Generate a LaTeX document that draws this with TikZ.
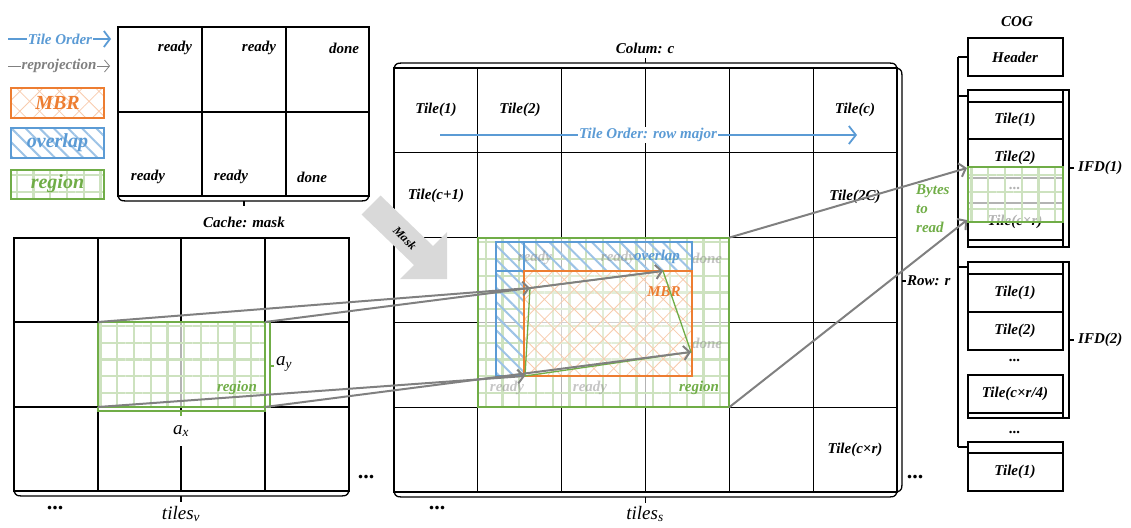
\documentclass[tikz,border=0pt]{standalone}
\usepackage{fontspec}
\setmainfont{Liberation Serif}
\usetikzlibrary{arrows.meta,patterns.meta}
\definecolor{cblue}{HTML}{5B9BD5}
\definecolor{corange}{HTML}{ED7D31}
\definecolor{cgreen}{HTML}{70AD47}
\definecolor{cgray}{HTML}{808080}
\definecolor{maskgray}{HTML}{D9D9D9}
\begin{document}
\begin{tikzpicture}[x=1pt,y=-1pt,
  every node/.style={inner sep=1pt},
  lbl/.style={font=\fontsize{15}{17}\selectfont\bfseries\itshape},
  big/.style={font=\fontsize{20}{22}\selectfont\bfseries\itshape},
  mlbl/.style={font=\fontsize{19}{20}\selectfont\itshape},
  dots/.style={font=\fontsize{22}{22}\selectfont\bfseries},
  gline/.style={line width=1.3pt,black},
  brk/.style={line width=1.3pt,black},
  gridfill/.style={pattern={Hatch[angle=0,distance=16.75pt,line width=2.2pt]},pattern color=cgreen!35},
  xfill/.style={pattern={Hatch[angle=45,distance=14pt,line width=0.8pt]},pattern color=corange!40},
  hfill/.style={pattern={Lines[angle=-45,distance=10pt,line width=2pt]},pattern color=cblue!60},
  veil/.style={fill=white,fill opacity=0.7},
  reproj/.style={draw=cgray,line width=2pt,-{Straight Barb[length=6pt,width=14pt,line width=2pt]}},
  faint/.style={lbl,text=gray,text opacity=0.45},
  cogbox/.style={line width=1.3pt,black},
]
\useasboundingbox (0,0) rectangle (1131,527);

% ---------------- legend
\coordinate (lg1a) at (8,39); \coordinate (lg1b) at (111,39);
\draw[cblue,line width=1.8pt,-{Straight Barb[length=6pt,width=16pt,line width=1.8pt]}] (lg1a) -- (lg1b);
\node[lbl,text=cblue,fill=white] (lgto) at (60,39) {Tile Order};
\coordinate (lg2a) at (8,66); \coordinate (lg2b) at (110,66);
\draw[cgray,line width=0.8pt,-{Straight Barb[length=5pt,width=12pt,line width=0.8pt]}] (lg2a) -- (lg2b);
\node[lbl,text=cgray,fill=white] (lgrp) at (59,66) {reprojection};

\path[xfill] (11,88) rectangle (104,118);
\draw[corange,line width=1.5pt] (11,88) rectangle (104,118);
\node[big,text=corange] (lgmbr) at (57.5,103) {MBR};
\path[hfill] (11,128) rectangle (104,158);
\draw[cblue,line width=1.5pt] (11,128) rectangle (104,158);
\node[big,text=cblue] (lgov) at (57.5,143) {overlap};
\path[gridfill] (11,170) rectangle (104,199);
\draw[cgreen,line width=1.5pt] (11,170) rectangle (104,199);
\node[big,text=cgreen] (lgreg) at (57.5,184) {region};

% ---------------- cache mask
\draw[gline] (118,27) rectangle (369,196);
\draw[gline] (202,27) -- (202,196);
\draw[gline] (286,27) -- (286,196);
\draw[gline] (118,112) -- (369,112);
\draw[brk] (118,196) .. controls (120,201) .. (132,201) -- (355,201) .. controls (367,201) .. (369,196);
\draw[brk] (244,201) -- (244,206);
\node[lbl] (cachelbl) at (244,222) {Cache: mask};
\node[lbl] (c1) at (175,48) {ready};
\node[lbl] (c2) at (259,48) {ready};
\node[lbl] (c3) at (344,48) {done};
\node[lbl] (c4) at (148,177) {ready};
\node[lbl] (c5) at (231,177) {ready};
\node[lbl] (c6) at (312,177) {done};

% ---------------- left grid (tiles_v)
\foreach \x in {98,181,265} \draw[gline] (\x,238) -- (\x,491);
\foreach \y in {322,407} \draw[gline] (14,\y) -- (349,\y);
\draw[gline] (14,238) rectangle (349,491);
\coordinate (L1) at (98,322); \coordinate (L2) at (265,322);
\coordinate (L3) at (98,407); \coordinate (L4) at (265,407);
\fill[veil] (L1) rectangle (L4);
\path[gridfill] (L1) rectangle (L4);
\draw[cgreen,line width=1.6pt,rounded corners=1.5pt] (L1) rectangle (L4);
\draw[cgreen,line width=1.3pt] (265,322) -- (270,322) -- (270,407) -- (265,407);
\draw[cgreen,line width=1.3pt] (270,366) -- (274,366);
\draw[cgreen,line width=1.3pt] (98,407) -- (98,411) -- (265,411) -- (265,407);
\draw[cgreen,line width=1.3pt] (181,411) -- (181,416);
\node[lbl,text=cgreen] (lreg) at (237,388) {region};
\node[mlbl,anchor=west] (ay) at (275,364) {a\textsubscript{y}};
\node[mlbl,fill=white,minimum height=30pt] (ax) at (181,431) {a\textsubscript{x}};
\draw[brk] (14,491) .. controls (16,496) .. (28,496) -- (335,496) .. controls (347,496) .. (349,491);
\draw[brk] (181,496) -- (181,502);
\node[mlbl] (tv) at (181,514) {tiles\textsubscript{v}};
\node[dots] (dl1) at (55,508) {...};
\node[dots] (dl2) at (366,477) {...};

% ---------------- middle grid (tiles_s)
\foreach \x in {477.8,561.7,645.5,729.3,813.2} \draw[gline] (\x,68) -- (\x,492);
\foreach \y in {152.8,237.6,322.4,407.2} \draw[gline] (394,\y) -- (897,\y);
\draw[gline] (394,68) rectangle (897,492);
\draw[brk] (394,68) .. controls (396,63) .. (408,63) -- (883,63) .. controls (895,63) .. (897,68);
\draw[brk] (645.5,63) -- (645.5,58);
\node[lbl] (colc) at (645,48) {Colum: c};
\draw[brk] (897,68) .. controls (902,70) .. (902,82) -- (902,478) .. controls (902,490) .. (897,492);
\draw[brk] (902,281) -- (906,281);
\node[lbl,anchor=west] (rowr) at (906,281) {Row: r};
\draw[brk] (394,492) .. controls (396,497) .. (408,497) -- (883,497) .. controls (895,497) .. (897,492);
\draw[brk] (645.5,497) -- (645.5,503);
\node[mlbl] (ts) at (645,514) {tiles\textsubscript{s}};
\node[dots] (dm1) at (437,508) {...};
\node[dots] (dm2) at (915,477) {...};

\node[lbl] (t1) at (436,110) {Tile(1)};
\node[lbl] (t2) at (520,110) {Tile(2)};
\node[lbl] (tc) at (855,110) {Tile(c)};
\node[lbl] (tc1) at (436,196) {Tile(c+1)};
\node[lbl] (t2c) at (855,197) {Tile(2C)};
\node[lbl] (tcr) at (855,450) {Tile(c×r)};

\coordinate (toa) at (440,135); \coordinate (tob) at (857,135);
\draw[cblue,line width=1.8pt,-{Straight Barb[length=7pt,width=18pt,line width=1.8pt]}] (toa) -- (tob);
\node[lbl,text=cblue,fill=white] (tolbl) at (648,135) {Tile Order: row major};

% region in the middle grid
\coordinate (R1) at (477.8,237.6); \coordinate (R2) at (729.3,407.2);
\coordinate (R3) at (729.3,237.6);
\fill[veil] (R1) rectangle (R2);
\path[gridfill] (R1) rectangle (R2);
\path[hfill] (496,242) -- (692,242) -- (692,271) -- (524,271) -- (524,376) -- (496,376) -- cycle;
\fill[white,fill opacity=0.4] (524,271) rectangle (692,376);
\path[xfill] (524,271) rectangle (692,376);
\node[faint] (m1) at (535,258) {ready};
\node[faint] (m2) at (618,258) {ready};
\node[faint] (m3) at (707,258) {done};
\node[faint] (m4) at (507,388) {ready};
\node[faint] (m5) at (590,388) {ready};
\node[faint] (m6) at (707,343) {done};
\draw[cblue,line width=1.5pt] (496,242) rectangle (692,376);
\draw[cblue,line width=1.5pt] (524,242) -- (524,271) -- (496,271);
\draw[corange,line width=1.5pt] (524,271) rectangle (692,376);
\draw[cgreen,line width=1.8pt] (R1) rectangle (R2);
\node[lbl,text=cblue] (ovl) at (657,257) {overlap};
\node[lbl,text=corange] (mbrl) at (664,292) {MBR};
\node[lbl,text=cgreen] (regl) at (699,388) {region};
\coordinate (P1) at (530,288); \coordinate (P2) at (663,271);
\coordinate (P3) at (691,352); \coordinate (P4) at (525,376);
\draw[cgreen,line width=1.3pt] (P1) -- (P2) -- (P3) -- (P4) -- cycle;

% mask arrow
\fill[maskgray] (380.5,195.5) -- (433,246) -- (447,232) -- (447,279) -- (400,279) -- (414,265) -- (361.5,214.5) -- cycle;
\node[font=\fontsize{12}{14}\selectfont\bfseries\itshape,rotate=-45,inner sep=0pt] (masklbl) at (405,238) {Mask};

% ---------------- COG
\node[lbl] (cog) at (1017,22) {COG};
\draw[cogbox] (968,38) rectangle (1063,76);
\node[lbl] (hdr) at (1015,57) {Header};
\draw[cogbox] (958,57) -- (958,447);
\foreach \y in {57,96,267,447} \draw[cogbox] (958,\y) -- (968,\y);
% IFD1
\draw[cogbox] (968,90) rectangle (1063,247);
\foreach \y in {102,139,178,203,240} \draw[cogbox] (968,\y) -- (1063,\y);
\node[lbl] (i1t1) at (1015,120) {Tile(1)};
\node[lbl] (i1t2) at (1015,158) {Tile(2)};
\node[lbl] (i1d) at (1015,188) {...};
\node[lbl] (i1tc) at (1015,222) {Tile(c×r)};
\coordinate (G1) at (968,167); \coordinate (G2) at (1063,222);
\fill[veil] (G1) rectangle (G2);
\path[gridfill] (G1) rectangle (G2);
\draw[cgreen,line width=1.6pt] (G1) rectangle (G2);
\draw[cogbox] (1063,90) -- (1069,90) -- (1069,247) -- (1063,247);
\draw[cogbox] (1069,168) -- (1074,168);
\node[lbl,anchor=west] (ifd1) at (1077,168) {IFD(1)};
% IFD2
\draw[cogbox] (968,262) rectangle (1063,350);
\draw[cogbox] (968,274) -- (1063,274);
\draw[cogbox] (968,312) -- (1063,312);
\node[lbl] (i2t1) at (1015,293) {Tile(1)};
\node[lbl] (i2t2) at (1015,331) {Tile(2)};
\node[lbl] (i2d) at (1015,360) {...};
\draw[cogbox] (968,375) rectangle (1063,418);
\draw[cogbox] (968,413) -- (1063,413);
\node[lbl] (i2tc) at (1015,394) {Tile(c×r/4)};
\draw[cogbox] (1063,262) -- (1069,262) -- (1069,418) -- (1063,418);
\draw[cogbox] (1069,340) -- (1074,340);
\node[lbl,anchor=west] (ifd2) at (1077,340) {IFD(2)};
% third
\node[lbl] (i3d) at (1015,432) {...};
\draw[cogbox] (968,442) rectangle (1063,491);
\draw[cogbox] (968,453) -- (1063,453);
\node[lbl] (i3t1) at (1015,472) {Tile(1)};

\node[lbl,text=cgreen,align=left,anchor=west,font=\fontsize{15}{19}\selectfont\bfseries\itshape] (bytes) at (915,209) {Bytes\\to\\read};

% ---------------- reprojection arrows
\coordinate (C1) at (967,168); \coordinate (C2) at (967,220);
\draw[reproj] (L1) -- (P1);
\draw[reproj] (L2) -- (P2);
\draw[reproj] (L3) -- (P4);
\draw[reproj] (L4) -- (P3);
\draw[reproj] (R3) -- (C1);
\draw[reproj] (R2) -- (C2);
\end{tikzpicture}
\end{document}
